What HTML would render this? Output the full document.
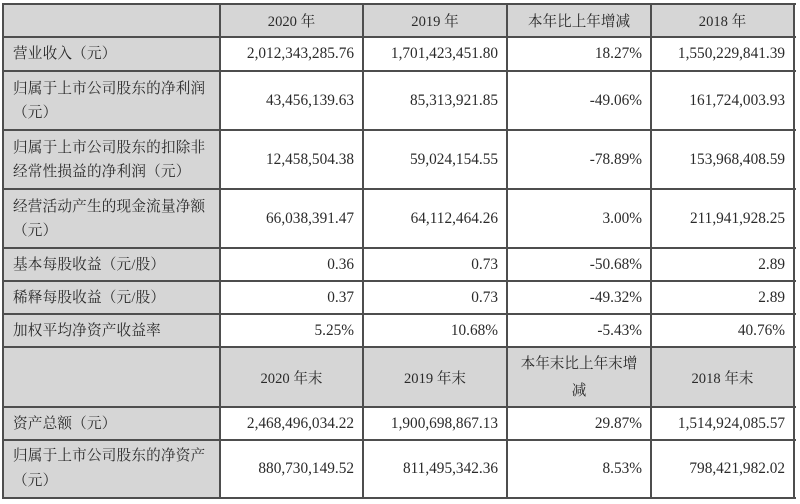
<!DOCTYPE html>
<html>
<head>
<meta charset="utf-8">
<style>
  html, body { margin:0; padding:0; background:#fff; }
  body { width:800px; height:504px; position:relative; overflow:hidden;
    font-family:"Liberation Serif","Noto Serif CJK SC",serif; font-size:14.6px; color:#2a2a2a; }
  .bg { position:absolute; background:#d6d6d6; }
  .h { position:absolute; height:2px; background:#4e4e4e; }
  .v { position:absolute; width:2px; background:#4e4e4e; }
  .c { position:absolute; display:flex; align-items:center; box-sizing:border-box; white-space:nowrap; }
  .r { justify-content:flex-end; padding-right:9px; font-size:15.3px; }
  .m { justify-content:center; text-align:center; }
  .l { justify-content:flex-start; padding-left:10px; line-height:24px; }
  .l span { letter-spacing:0.2px; }
</style>
</head>
<body>
<!-- gray backgrounds -->
<div class="bg" style="left:3px;top:4px;width:791px;height:33px;"></div>
<div class="bg" style="left:3px;top:4px;width:217px;height:494px;"></div>
<div class="bg" style="left:3px;top:347px;width:791px;height:60px;"></div>

<!-- horizontal lines -->
<div class="h" style="left:3px;width:793px;top:3px;"></div>
<div class="h" style="left:3px;width:793px;top:36px;"></div>
<div class="h" style="left:3px;width:793px;top:70px;"></div>
<div class="h" style="left:3px;width:793px;top:129px;"></div>
<div class="h" style="left:3px;width:793px;top:188px;"></div>
<div class="h" style="left:3px;width:793px;top:247px;"></div>
<div class="h" style="left:3px;width:793px;top:280px;"></div>
<div class="h" style="left:3px;width:793px;top:313px;"></div>
<div class="h" style="left:3px;width:793px;top:346px;"></div>
<div class="h" style="left:3px;width:793px;top:406px;"></div>
<div class="h" style="left:3px;width:793px;top:439px;"></div>
<div class="h" style="left:3px;width:793px;top:497px;"></div>

<!-- vertical lines -->
<div class="v" style="top:3px;height:496px;left:2px;"></div>
<div class="v" style="top:3px;height:496px;left:219px;"></div>
<div class="v" style="top:3px;height:496px;left:362px;"></div>
<div class="v" style="top:3px;height:496px;left:506px;"></div>
<div class="v" style="top:3px;height:496px;left:650px;"></div>
<div class="v" style="top:3px;height:496px;left:793px;"></div>

<!-- header row 1 -->
<div class="c m" style="left:220px;top:4px;width:143px;height:33px;">2020 年</div>
<div class="c m" style="left:363px;top:4px;width:144px;height:33px;">2019 年</div>
<div class="c m" style="left:507px;top:4px;width:144px;height:33px;">本年比上年增减</div>
<div class="c m" style="left:651px;top:4px;width:143px;height:33px;">2018 年</div>

<!-- row: 营业收入 -->
<div class="c l" style="left:3px;top:37px;width:217px;height:34px;"><span>营业收入（元）</span></div>
<div class="c r" style="left:220px;top:37px;width:143px;height:34px;">2,012,343,285.76</div>
<div class="c r" style="left:363px;top:37px;width:144px;height:34px;">1,701,423,451.80</div>
<div class="c r" style="left:507px;top:37px;width:144px;height:34px;">18.27%</div>
<div class="c r" style="left:651px;top:37px;width:143px;height:34px;">1,550,229,841.39</div>

<!-- row: 净利润 -->
<div class="c l" style="left:3px;top:71px;width:217px;height:59px;"><span>归属于上市公司股东的净利润<br>（元）</span></div>
<div class="c r" style="left:220px;top:71px;width:143px;height:59px;">43,456,139.63</div>
<div class="c r" style="left:363px;top:71px;width:144px;height:59px;">85,313,921.85</div>
<div class="c r" style="left:507px;top:71px;width:144px;height:59px;">-49.06%</div>
<div class="c r" style="left:651px;top:71px;width:143px;height:59px;">161,724,003.93</div>

<!-- row: 扣非 -->
<div class="c l" style="left:3px;top:130px;width:217px;height:59px;"><span>归属于上市公司股东的扣除非<br>经常性损益的净利润（元）</span></div>
<div class="c r" style="left:220px;top:130px;width:143px;height:59px;">12,458,504.38</div>
<div class="c r" style="left:363px;top:130px;width:144px;height:59px;">59,024,154.55</div>
<div class="c r" style="left:507px;top:130px;width:144px;height:59px;">-78.89%</div>
<div class="c r" style="left:651px;top:130px;width:143px;height:59px;">153,968,408.59</div>

<!-- row: 经营活动 -->
<div class="c l" style="left:3px;top:189px;width:217px;height:59px;"><span>经营活动产生的现金流量净额<br>（元）</span></div>
<div class="c r" style="left:220px;top:189px;width:143px;height:59px;">66,038,391.47</div>
<div class="c r" style="left:363px;top:189px;width:144px;height:59px;">64,112,464.26</div>
<div class="c r" style="left:507px;top:189px;width:144px;height:59px;">3.00%</div>
<div class="c r" style="left:651px;top:189px;width:143px;height:59px;">211,941,928.25</div>

<!-- row: 基本每股 -->
<div class="c l" style="left:3px;top:248px;width:217px;height:33px;"><span>基本每股收益（元/股）</span></div>
<div class="c r" style="left:220px;top:248px;width:143px;height:33px;">0.36</div>
<div class="c r" style="left:363px;top:248px;width:144px;height:33px;">0.73</div>
<div class="c r" style="left:507px;top:248px;width:144px;height:33px;">-50.68%</div>
<div class="c r" style="left:651px;top:248px;width:143px;height:33px;">2.89</div>

<!-- row: 稀释每股 -->
<div class="c l" style="left:3px;top:281px;width:217px;height:33px;"><span>稀释每股收益（元/股）</span></div>
<div class="c r" style="left:220px;top:281px;width:143px;height:33px;">0.37</div>
<div class="c r" style="left:363px;top:281px;width:144px;height:33px;">0.73</div>
<div class="c r" style="left:507px;top:281px;width:144px;height:33px;">-49.32%</div>
<div class="c r" style="left:651px;top:281px;width:143px;height:33px;">2.89</div>

<!-- row: 加权 -->
<div class="c l" style="left:3px;top:314px;width:217px;height:33px;"><span>加权平均净资产收益率</span></div>
<div class="c r" style="left:220px;top:314px;width:143px;height:33px;">5.25%</div>
<div class="c r" style="left:363px;top:314px;width:144px;height:33px;">10.68%</div>
<div class="c r" style="left:507px;top:314px;width:144px;height:33px;">-5.43%</div>
<div class="c r" style="left:651px;top:314px;width:143px;height:33px;">40.76%</div>

<!-- header row 2 -->
<div class="c m" style="left:220px;top:348px;width:143px;height:59px;">2020 年末</div>
<div class="c m" style="left:363px;top:348px;width:144px;height:59px;">2019 年末</div>
<div class="c m" style="left:507px;top:348px;width:144px;height:59px;line-height:27px;">本年末比上年末增<br>减</div>
<div class="c m" style="left:651px;top:348px;width:143px;height:59px;">2018 年末</div>

<!-- row: 资产总额 -->
<div class="c l" style="left:3px;top:407px;width:217px;height:33px;"><span>资产总额（元）</span></div>
<div class="c r" style="left:220px;top:407px;width:143px;height:33px;">2,468,496,034.22</div>
<div class="c r" style="left:363px;top:407px;width:144px;height:33px;">1,900,698,867.13</div>
<div class="c r" style="left:507px;top:407px;width:144px;height:33px;">29.87%</div>
<div class="c r" style="left:651px;top:407px;width:143px;height:33px;">1,514,924,085.57</div>

<!-- row: 净资产 -->
<div class="c l" style="left:3px;top:440px;width:217px;height:58px;line-height:25px;"><span>归属于上市公司股东的净资产<br>（元）</span></div>
<div class="c r" style="left:220px;top:440px;width:143px;height:58px;">880,730,149.52</div>
<div class="c r" style="left:363px;top:440px;width:144px;height:58px;">811,495,342.36</div>
<div class="c r" style="left:507px;top:440px;width:144px;height:58px;">8.53%</div>
<div class="c r" style="left:651px;top:440px;width:143px;height:58px;">798,421,982.02</div>
</body>
</html>
